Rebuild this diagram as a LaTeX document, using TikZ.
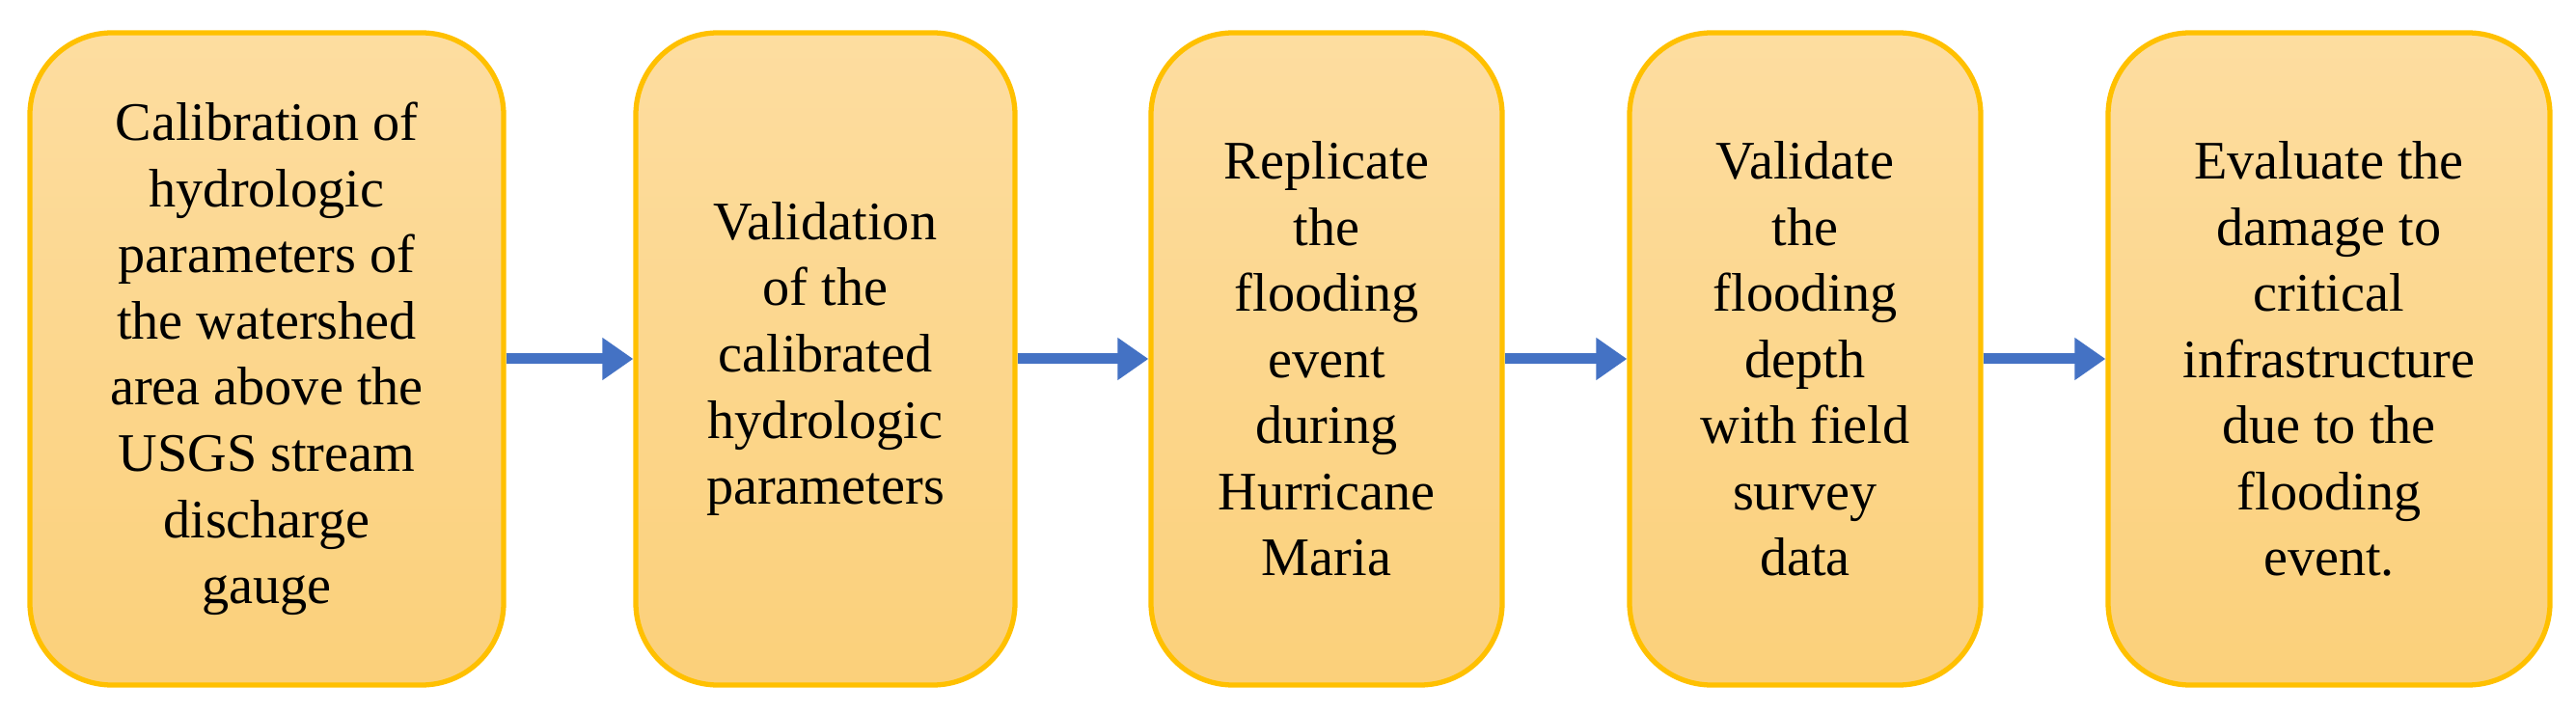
\documentclass[tikz,border=0pt]{standalone}
\usepackage{fontspec}
\setmainfont{Liberation Serif}
\usetikzlibrary{arrows.meta}
\usetikzlibrary{positioning}
\definecolor{boxtop}{HTML}{FDDDA0}
\definecolor{boxbot}{HTML}{FBD07A}
\definecolor{boxline}{HTML}{FFC000}
\definecolor{flowblue}{HTML}{4472C4}
\tikzset{
    stage/.style={draw=boxline, line width=1.5pt, rounded corners=0.85cm,
        top color=boxtop, bottom color=boxbot, minimum height=6.76cm,
        align=center, font=\fontsize{16}{19.5}\selectfont, inner sep=0pt},
    flow/.style={-{Triangle[length=0.32cm,width=0.42cm]}, draw=flowblue, line width=0.11cm}
}
\begin{document}
\begin{tikzpicture}
        \useasboundingbox (0,0) rectangle (26.7,7.39);
        \node[stage, minimum width=4.91cm] (calib) at (2.765,3.67)
            {Calibration of\\hydrologic\\parameters of\\the watershed\\area above the\\USGS stream\\discharge\\gauge};
        \node[stage, minimum width=3.93cm] (valid) at (8.555,3.67)
            {Validation\\of the\\calibrated\\hydrologic\\parameters};
        \node[stage, minimum width=3.64cm] (repl) at (13.75,3.67)
            {Replicate\\the\\flooding\\event\\during\\Hurricane\\Maria};
        \node[stage, minimum width=3.64cm] (depth) at (18.71,3.67)
            {Validate\\the\\flooding\\depth\\with field\\survey\\data};
        \node[stage, minimum width=4.58cm] (damage) at (24.14,3.67)
            {Evaluate the\\damage to\\critical\\infrastructure\\due to the\\flooding\\event.};

        \draw[flow] (calib) -- (valid);
        \draw[flow] (valid) -- (repl);
        \draw[flow] (repl) -- (depth);
        \draw[flow] (depth) -- (damage);
   \end{tikzpicture}
\end{document}
